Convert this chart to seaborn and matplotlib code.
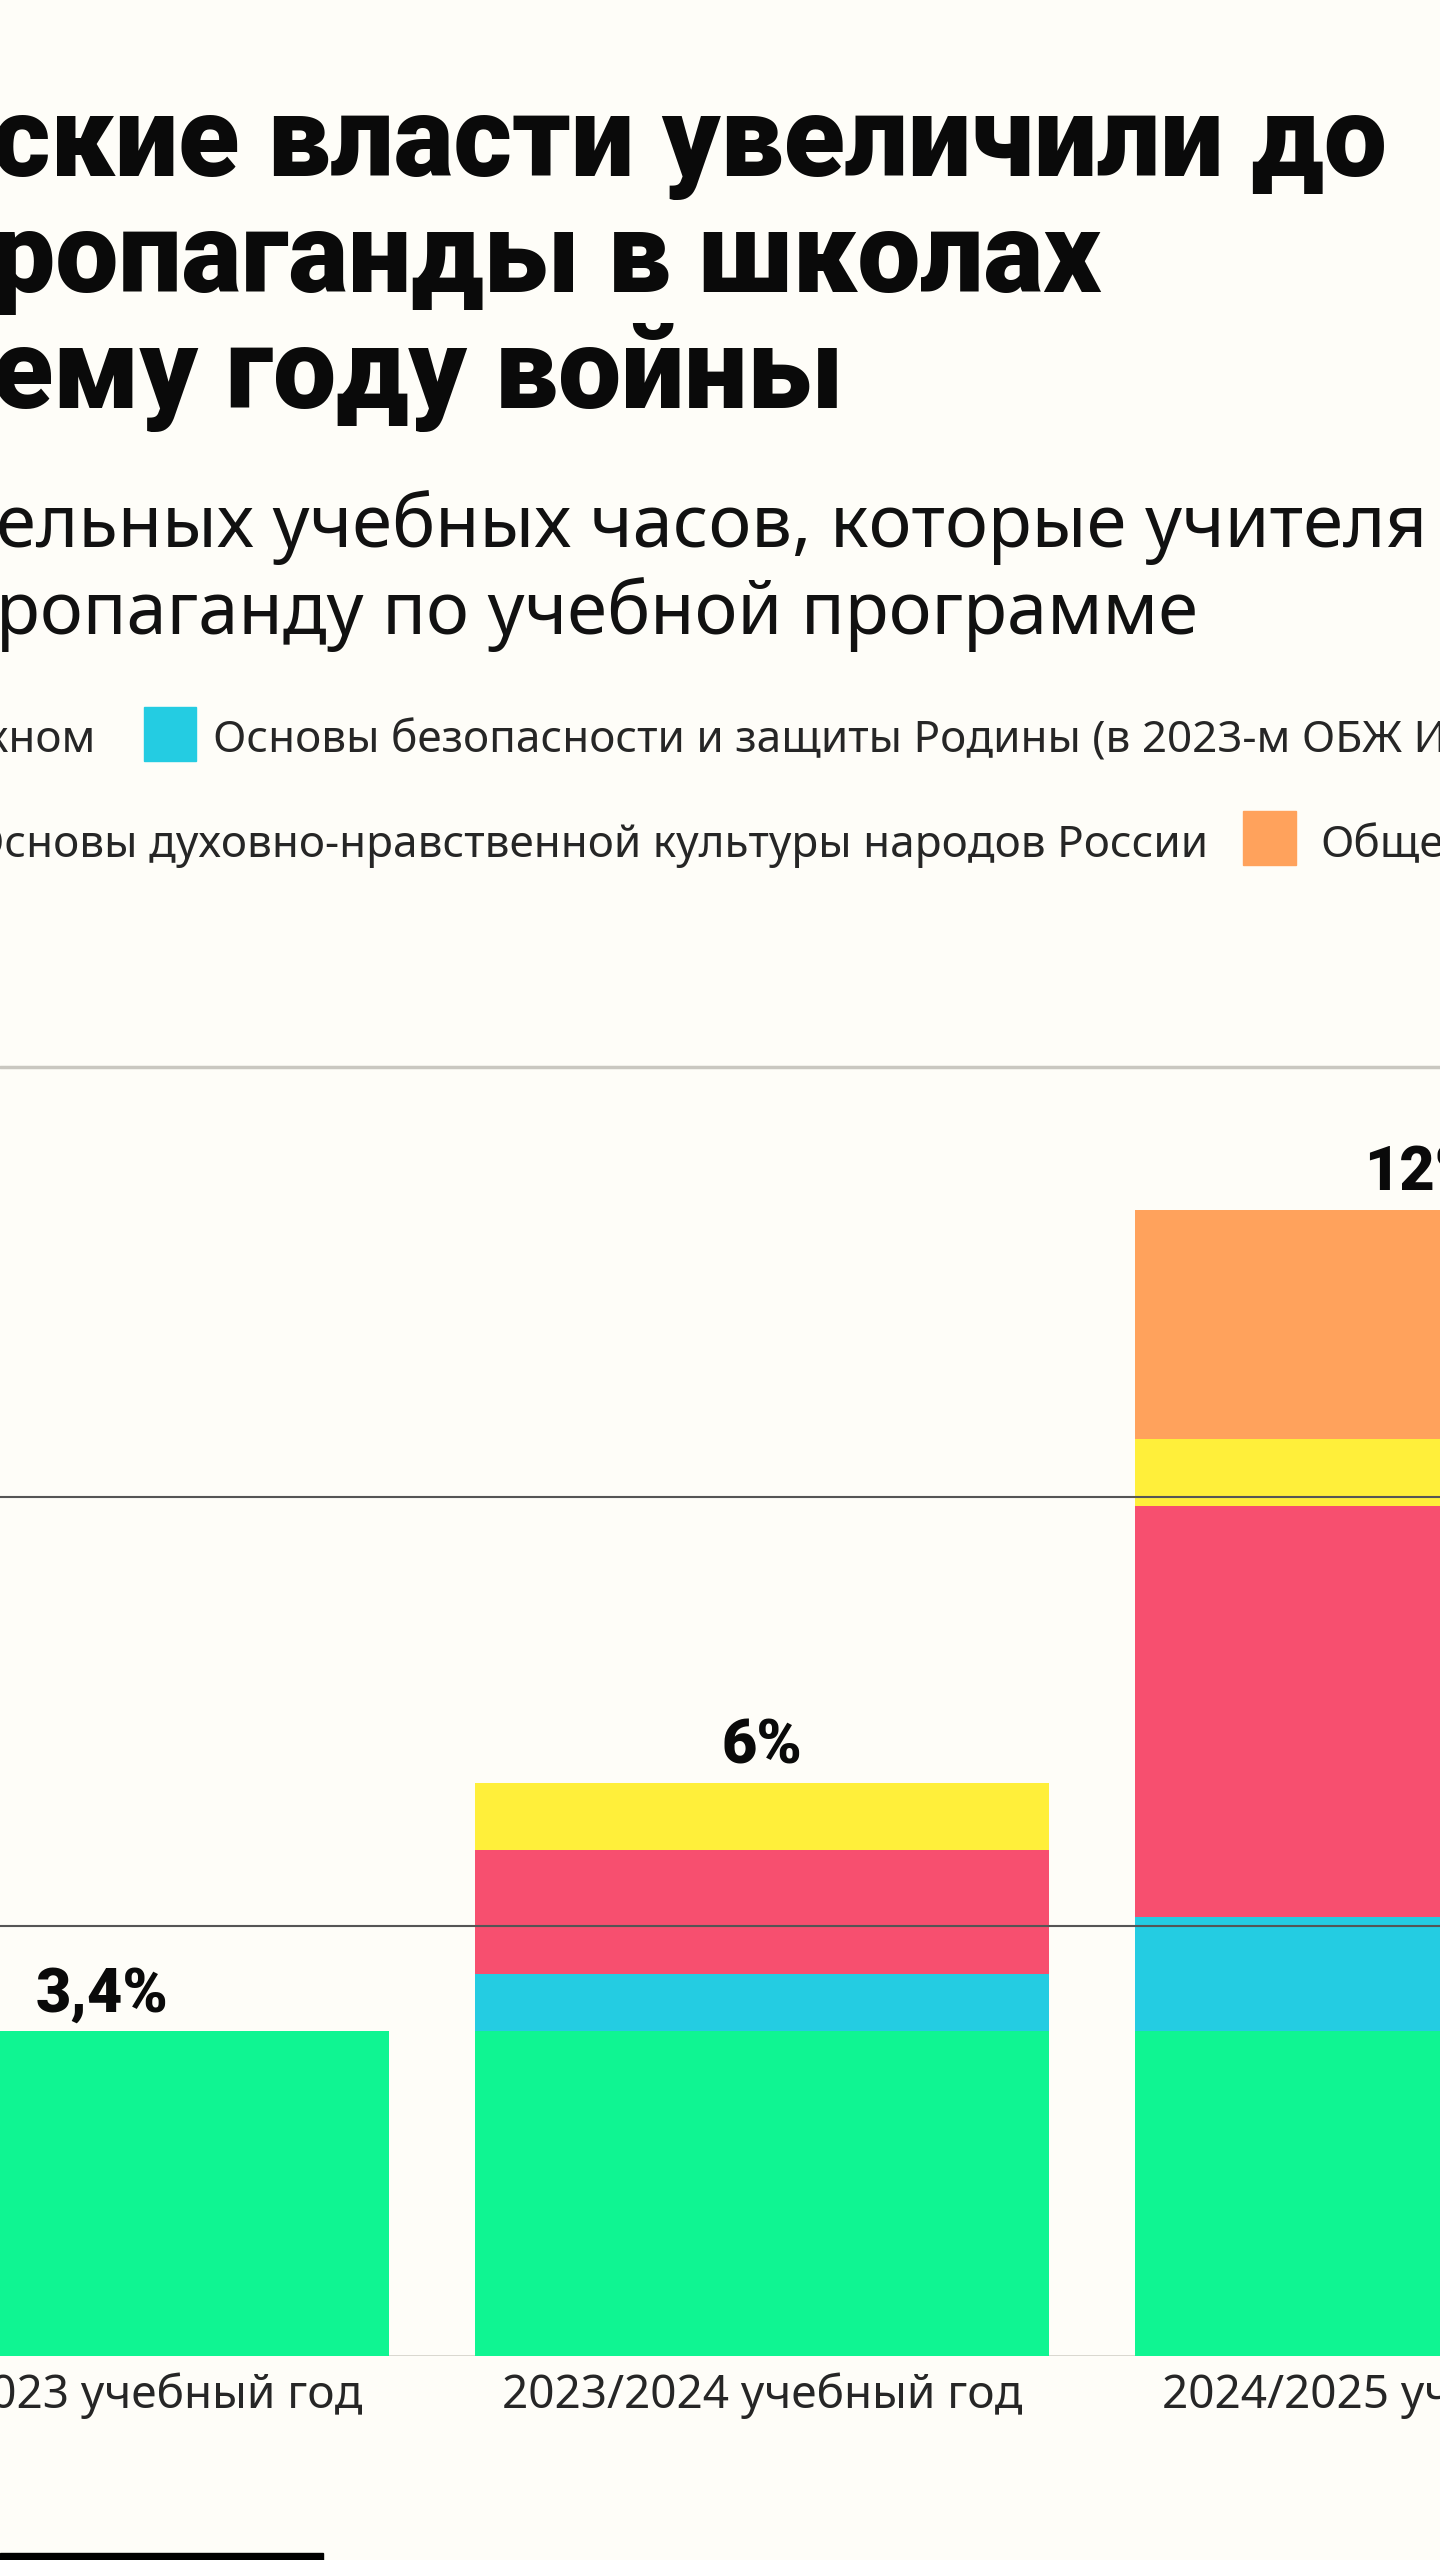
import seaborn as sns
import matplotlib.pyplot as plt
import pandas as pd
from matplotlib.patches import Rectangle

# data -------------------------------------------
years = ["2022/2023 учебный год", "2023/2024 учебный год", "2024/2025 учебный год"]
totals = ["3,4%", "6%", "12%"]
total_vals = [3.4, 6.0, 12.0]

razgovory = [3.4, 3.4, 3.4]      # Разговоры о важном
obzr = [0.0, 0.6, 1.2]           # Основы безопасности и защиты Родины
red_part = [0.0, 1.3, 4.3]       # (подпись за краем)
odnknr = [0.0, 0.7, 0.7]         # Основы духовно-нравственной культуры
obshch = [0.0, 0.0, 2.4]         # Обществознание

layers = [razgovory, obzr, red_part, odnknr, obshch]
colors = ["#0ff592", "#24cce2", "#f74f6f", "#ffef3a", "#ffa25c"]

bg = "#fefdf8"
W, H = 1440, 2560

def fx(x):
    return x / W

def fy(y):
    return 1 - y / H

sns.set_style("white")
plt.rcParams['font.family'] = ['Noto Sans', 'DejaVu Sans']

fig = plt.figure(figsize=(14.4, 25.6), dpi=100, facecolor=bg)

# title / subtitle -------------------------------
title = ["ские власти увеличили до", "ропаганды в школах", "ему году войны"]
for i, line in enumerate(title):
    fig.text(fx(-8), fy(176 + 116 * i), line, fontsize=81, weight='heavy',
             family=['Roboto', 'DejaVu Sans'], va='baseline', color='#0a0a0a')

subtitle = ["ельных учебных часов, которые учителя", "ропаганду по учебной программе"]
for i, line in enumerate(subtitle):
    fig.text(fx(-4), fy(547 + 87 * i), line, fontsize=52, va='baseline', color='#111')

# legend (cropped) -------------------------------
fs_leg = 31.7
fig.text(fx(95), fy(752), "Разговоры о важном", fontsize=fs_leg, ha='right', va='baseline')
fig.patches.append(Rectangle((fx(144), fy(761)), 52 / W, 54 / H, transform=fig.transFigure,
                             color=colors[1], figure=fig))
fig.text(fx(213), fy(752), "Основы безопасности и защиты Родины (в 2023-м ОБЖ И",
         fontsize=fs_leg, va='baseline')
fig.text(fx(1208), fy(857), "Основы духовно-нравственной культуры народов России",
         fontsize=fs_leg, ha='right', va='baseline')
fig.patches.append(Rectangle((fx(1243), fy(865)), 53 / W, 54 / H, transform=fig.transFigure,
                             color=colors[4], figure=fig))
fig.text(fx(1320), fy(857), "Обществознание", fontsize=fs_leg, va='baseline')

# chart ------------------------------------------
ax = fig.add_axes([0, fy(2356), 1, (2356 - 1000) / H])
ax.set_facecolor(bg)

cum = pd.DataFrame(layers).cumsum().values
df = pd.DataFrame({"year": years})
# draw from the top of the stack down so lower layers cover the upper ones
for k in range(len(layers) - 1, -1, -1):
    df["v"] = cum[k]
    sns.barplot(data=df, x="year", y="v", color=colors[k], width=0.87,
                saturation=1, linewidth=0, ax=ax, zorder=2)

for i, (lab, v) in enumerate(zip(totals, total_vals)):
    ax.annotate(lab, (i, v), xytext=(0, 14), textcoords='offset points',
                ha='center', va='baseline', fontsize=44, weight='heavy',
                family=['Roboto', 'DejaVu Sans'], color='#0a0a0a')

ax.axhline(0, color='#d6d4cc', lw=2, zorder=1)
ax.axhline(4.5, color='#555555', lw=1.5, zorder=5)
ax.axhline(9, color='#555555', lw=1.5, zorder=5)
ax.axhline(13.5, color='#c9c7c0', lw=2.5, zorder=5)

ax.set_xlim(-102 / 660, (W - 102) / 660)
ax.set_ylim(0, 1356 / 95.5)
ax.set_yticks([])
ax.set_xlabel("")
ax.set_ylabel("")
ax.tick_params(axis='x', length=0, pad=12, labelsize=33)
sns.despine(ax=ax, left=True, bottom=True)

fig.patches.append(Rectangle((0, 0), 323 / W, 7 / H, transform=fig.transFigure,
                             color='black', figure=fig))

fig.savefig("out.png", dpi=100, facecolor=bg)
